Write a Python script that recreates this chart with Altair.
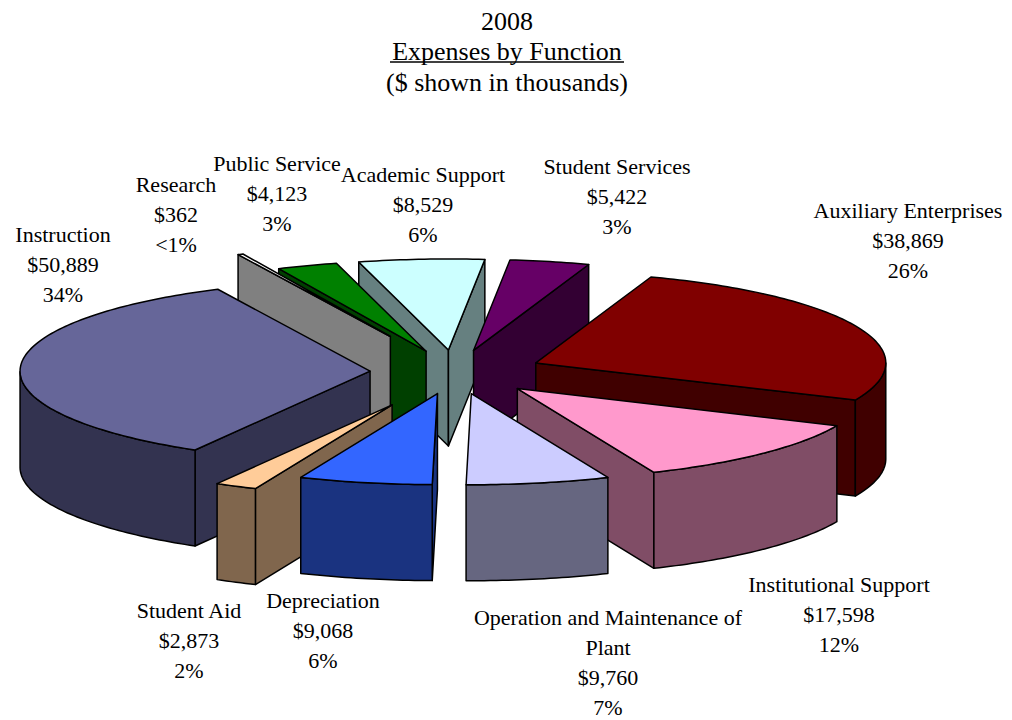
import math
import altair as alt

# ---- data ----
categories = ["Instruction", "Research", "Public Service", "Academic Support", "Student Services",
              "Auxiliary Enterprises", "Institutional Support", "Operation and Maintenance of Plant",
              "Depreciation", "Student Aid"]
amounts = [50889, 362, 4123, 8529, 5422, 38869, 17598, 9760, 9068, 2873]
amount_labels = ["$50,889", "$362", "$4,123", "$8,529", "$5,422", "$38,869", "$17,598", "$9,760", "$9,068", "$2,873"]
percent_labels = ["34%", "<1%", "3%", "6%", "3%", "26%", "12%", "7%", "6%", "2%"]
top_colors = ["#666699", "#FFFFFF", "#008000", "#CCFFFF", "#660066", "#800000", "#FF99CC", "#CCCCFF", "#3366FF", "#FFCC99"]
side_colors = ["#333350", "#808080", "#004000", "#668080", "#330033", "#400000", "#804D66", "#666680", "#1A3380", "#80664D"]
explosion = [85, 151, 85, 85, 85, 88, 89, 85, 85, 141]
paint_order = [3, 2, 1, 4, 5, 0, 6, 9, 8, 7]

# ---- layout of the 3-D pie ----
W, H = 996, 712
OFF = 8
CX, CY = 455, 372
RX, RY = 350, 91
DEPTH = 96
START = 210.0


def pt(cx, cy, a, dz=0):
    r = math.radians(a)
    return [cx + RX * math.sin(r) - OFF, cy - RY * math.cos(r) + dz - OFF]


def feat(ring, fill, stroke="black"):
    ring = ring + [ring[0]]
    return {"type": "Feature", "properties": {"fill": fill, "line": stroke},
            "geometry": {"type": "Polygon", "coordinates": [ring]}}


total = sum(amounts)
spans = []
a0 = START
for v in amounts:
    a1 = a0 + 360 * v / total
    spans.append((a0, a1))
    a0 = a1

features = [feat([[0, 0], [W, 0], [W, H], [0, H]], "#FFFFFF", "#FFFFFF")]
for i in paint_order:
    a, b = spans[i]
    mid = math.radians((a + b) / 2)
    cx = CX + explosion[i] * math.sin(mid)
    cy = CY - explosion[i] * RY / RX * math.cos(mid)
    apex = [cx - OFF, cy - OFF]
    apex_low = [cx - OFF, cy - OFF + DEPTH]
    top_c, side_c = top_colors[i], side_colors[i]
    # radial walls facing the viewer
    if math.sin(math.radians(a)) < 0:
        features.append(feat([apex, pt(cx, cy, a), pt(cx, cy, a, DEPTH), apex_low], side_c))
    if math.sin(math.radians(b)) > 0:
        features.append(feat([apex, pt(cx, cy, b), pt(cx, cy, b, DEPTH), apex_low], side_c))
    # arc samples
    n = max(3, int(b - a) + 1)
    samples = [a + (b - a) * k / n for k in range(n + 1)]
    front = [t for t in samples if math.cos(math.radians(t)) < 0]
    if len(front) >= 2:
        features.append(feat([pt(cx, cy, t) for t in front] +
                             [pt(cx, cy, t, DEPTH) for t in reversed(front)], side_c))
    features.append(feat([apex] + [pt(cx, cy, t) for t in samples], top_c))

pie = alt.Chart(alt.Data(values=features)).mark_geoshape(strokeWidth=1.5, strokeJoin="round").encode(
    fill=alt.Fill("properties.fill:N", scale=None),
    stroke=alt.Stroke("properties.line:N", scale=None),
).project(type="identity")

# ---- text ----
label_centers = {"Instruction": (63, 235), "Research": (176, 185), "Public Service": (277, 164),
                 "Academic Support": (423, 175), "Student Services": (617, 167),
                 "Auxiliary Enterprises": (908, 211), "Institutional Support": (839, 585),
                 "Operation and Maintenance of Plant": (608, 618), "Depreciation": (323, 601),
                 "Student Aid": (189, 611)}
LINE = 30
rows = []
for name, amt, pct in zip(categories, amount_labels, percent_labels):
    x, y = label_centers[name]
    lines = ["Operation and Maintenance of", "Plant"] if name.startswith("Operation") else [name]
    for k, s in enumerate(lines + [amt, pct]):
        rows.append({"t": s, "px": x - OFF, "py": y + k * LINE - OFF})

labels = alt.Chart(alt.Data(values=rows)).mark_text(
    font="Liberation Serif", fontSize=22, baseline="middle", align="center", color="black"
).encode(x=alt.X("px:Q", scale=None), y=alt.Y("py:Q", scale=None), text="t:N")

title_rows = [{"t": "2008", "px": 507 - OFF, "py": 21.5 - OFF},
              {"t": "Expenses by Function", "px": 507 - OFF, "py": 52 - OFF},
              {"t": "($ shown in thousands)", "px": 507 - OFF, "py": 83 - OFF}]
title = alt.Chart(alt.Data(values=title_rows)).mark_text(
    font="Liberation Serif", fontSize=26, baseline="middle", align="center", color="black"
).encode(x=alt.X("px:Q", scale=None), y=alt.Y("py:Q", scale=None), text="t:N")

underline = alt.Chart(alt.Data(values=[{"a": 1}])).mark_rule(color="black", strokeWidth=1.5).encode(
    x=alt.value(390 - OFF), x2=alt.value(624 - OFF), y=alt.value(62 - OFF))

chart = alt.layer(pie, labels, title, underline).properties(
    width=W, height=H, padding=0, background="white",
    autosize=alt.AutoSizeParams(type="none")
).configure_view(stroke=None)
chart.save("out.html", embed_options={"renderer": "svg", "actions": False})
